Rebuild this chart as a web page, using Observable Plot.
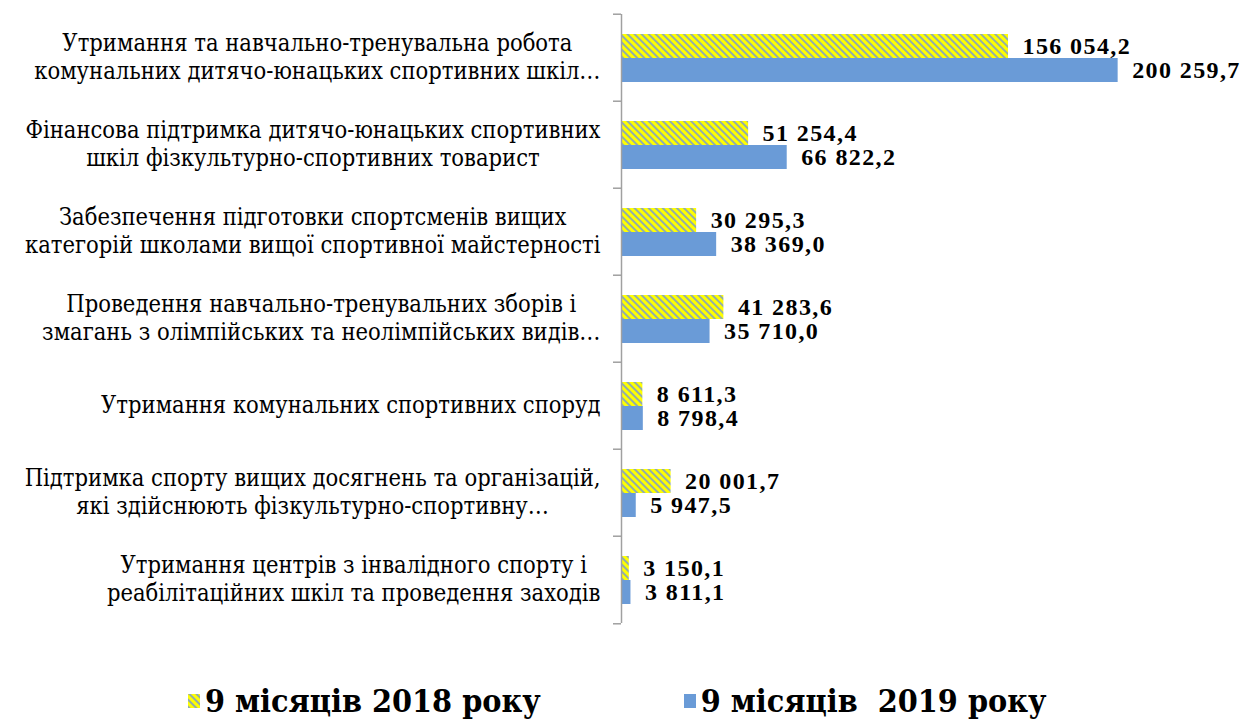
<!DOCTYPE html>
<html>
<head>
<meta charset="utf-8">
<script src="https://cdn.jsdelivr.net/npm/d3@7"></script>
<script src="https://cdn.jsdelivr.net/npm/@observablehq/plot@0.6"></script>
<style>
  html, body { margin: 0; padding: 0; background: #ffffff; }
  #chart { width: 1245px; }
  .val text { letter-spacing: 1.4px; }
  .legend { display: flex; align-items: center; padding-left: 188px; margin-top: 33px; line-height: 36px;
    font-family: "DejaVu Serif Condensed", "DejaVu Serif", serif; font-weight: bold; font-size: 32px; color: #000; }
  .legend .item { display: flex; align-items: center; white-space: pre; }
  .legend .item + .item { margin-left: 143px; }
  .legend svg { margin-right: 5px; }
</style>
</head>
<body>
<div id="chart"></div>
<script>
const categories = [
  "Утримання та навчально-тренувальна робота\nкомунальних дитячо-юнацьких спортивних шкіл…",
  "Фінансова підтримка дитячо-юнацьких спортивних\nшкіл фізкультурно-спортивних товарист",
  "Забезпечення підготовки спортсменів вищих\nкатегорій школами вищої спортивної майстерності",
  "Проведення навчально-тренувальних зборів і\nзмагань з олімпійських та неолімпійських видів…",
  "Утримання комунальних спортивних споруд",
  "Підтримка спорту вищих досягнень та організацій,\nякі здійснюють фізкультурно-спортивну…",
  "Утримання центрів з інвалідного спорту і\nреабілітаційних шкіл та проведення заходів"
];
const seriesKeys = ["2018", "2019"];
const seriesNames = ["9 місяців 2018 року", "9 місяців  2019 року"];
const values2018 = [156054.2, 51254.4, 30295.3, 41283.6, 8611.3, 20001.7, 3150.1];
const values2019 = [200259.7, 66822.2, 38369.0, 35710.0, 8798.4, 5947.5, 3811.1];

const rows = [];
categories.forEach((c, i) => {
  rows.push({category: c, series: "2018", value: values2018[i]});
  rows.push({category: c, series: "2019", value: values2019[i]});
});

const fmt = d3.formatLocale({decimal: ",", thousands: " ", grouping: [3]}).format(",.1f");
const serif = "'DejaVu Serif Condensed', 'DejaVu Serif', serif";
const numFont = "'Liberation Serif', 'Times New Roman', serif";
const axisColor = "#a0a0a0";
const W = 1245, H = 650, mTop = 12, mBottom = 25;
const step = (H - mTop - mBottom) / categories.length;

const svg = Plot.plot({
  width: W,
  height: H,
  marginLeft: 621,
  marginRight: 4,
  marginTop: mTop,
  marginBottom: mBottom,
  style: {fontFamily: serif, background: "#ffffff", color: "#000"},
  x: {domain: [0, 250000], axis: null},
  y: {domain: seriesKeys, paddingInner: 0, paddingOuter: 0.75, axis: null},
  fy: {domain: categories, paddingInner: 0, paddingOuter: 0, axis: null},
  color: {domain: seriesKeys, range: ["url(#hatch2018)", "#6a9bd7"]},
  marks: [
    Plot.barX(rows, {x: "value", y: "series", fy: "category", fill: "series"}),
    Plot.text(rows, {x: "value", y: "series", fy: "category", text: d => fmt(d.value),
      textAnchor: "start", dx: 14, fontSize: 24, fontWeight: "bold", fontFamily: numFont, fill: "#000",
      className: "val"}),
    Plot.ruleX([0], {stroke: axisColor, strokeWidth: 1.5}),
    Plot.axisFy({anchor: "left", label: null, tickSize: 8, tickFormat: () => "", dy: -step / 2, stroke: axisColor, strokeWidth: 1.5}),
    Plot.axisFy({anchor: "left", label: null, ticks: [categories[categories.length - 1]], tickSize: 8, tickFormat: () => "", dy: step / 2, stroke: axisColor, strokeWidth: 1.5}),
    Plot.text(categories, {fy: d => d, text: d => d, frameAnchor: "left", dx: -21, dy: -2,
      textAnchor: "middle", lineAnchor: "middle", lineHeight: 1.19, fontSize: 23.5, fill: "#000",
      className: "cat-label"})
  ]
});

function addPattern(target, id) {
  const defs = d3.select(target).insert("defs", ":first-child");
  const p = defs.append("pattern").attr("id", id).attr("patternUnits", "userSpaceOnUse")
    .attr("width", 5).attr("height", 5).attr("patternTransform", "rotate(-45)");
  p.append("rect").attr("width", 5).attr("height", 5).attr("fill", "#ffff00");
  p.append("line").attr("x1", 1).attr("y1", 0).attr("x2", 1).attr("y2", 5)
    .attr("stroke", "#7f9fc8").attr("stroke-width", 1.7);
}
addPattern(svg, "hatch2018");
document.getElementById("chart").appendChild(svg);

// center each line of a category label inside its right-aligned block
d3.select(svg).selectAll(".cat-label text").each(function () {
  const spans = d3.select(this).selectAll("tspan");
  let maxW = 0;
  if (spans.empty()) {
    maxW = this.getComputedTextLength();
    d3.select(this).attr("x", -maxW / 2);
  } else {
    spans.each(function () { maxW = Math.max(maxW, this.getComputedTextLength()); });
    spans.attr("x", -maxW / 2);
  }
});

// legend
const legend = d3.select("body").append("div").attr("class", "legend");
seriesKeys.forEach((k, i) => {
  const item = legend.append("div").attr("class", "item");
  const sw = item.append("svg").attr("width", 12).attr("height", 14);
  sw.append("rect").attr("width", 12).attr("height", 14)
    .attr("fill", i === 0 ? "url(#hatch2018)" : "#6a9bd7");
  item.append("span").text(seriesNames[i]);
});
</script>
</body>
</html>
